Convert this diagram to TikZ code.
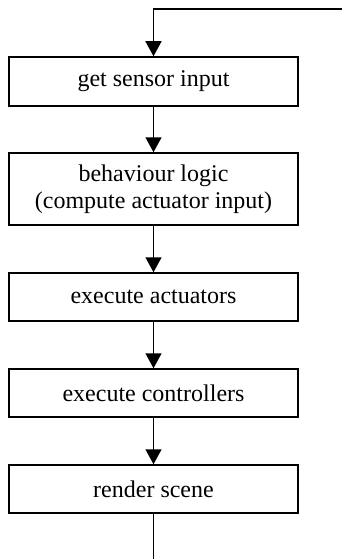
\documentclass[tikz,border=0pt]{standalone}
\usepackage{fontspec}
\setmainfont{Liberation Serif}
\usetikzlibrary{arrows.meta}
\begin{document}
\begin{tikzpicture}[x=1pt,y=-1pt,
  stepbox/.style={draw, line width=1.5pt, minimum width=289pt, inner sep=0pt, align=center,
    font=\fontsize{24}{27}\selectfont},
  flow/.style={line width=1.6pt, -{Triangle[width=16pt,length=15pt]}},
  plain/.style={line width=1.6pt}]
\useasboundingbox (0,0) rectangle (342,559);
\node[stepbox, minimum height=49pt] (s1) at (153.5,81.5) {get sensor input};
\node[stepbox, minimum height=72pt] (s2) at (153.5,189) {behaviour logic\\(compute actuator input)};
\node[stepbox, minimum height=48pt] (s3) at (153.5,297) {execute actuators};
\node[stepbox, minimum height=48pt] (s4) at (153.5,393) {execute controllers};
\node[stepbox, minimum height=48pt] (s5) at (153.5,489) {render scene};
\coordinate (tr) at (342,9);
\coordinate (tl) at (153.5,9);
\coordinate (bot) at (153.5,559);
\draw[flow] (tr) -- (tl) -- (s1.north);
\draw[flow] (s1) -- (s2);
\draw[flow] (s2) -- (s3);
\draw[flow] (s3) -- (s4);
\draw[flow] (s4) -- (s5);
\draw[plain] (s5) -- (bot);
\end{tikzpicture}
\end{document}
